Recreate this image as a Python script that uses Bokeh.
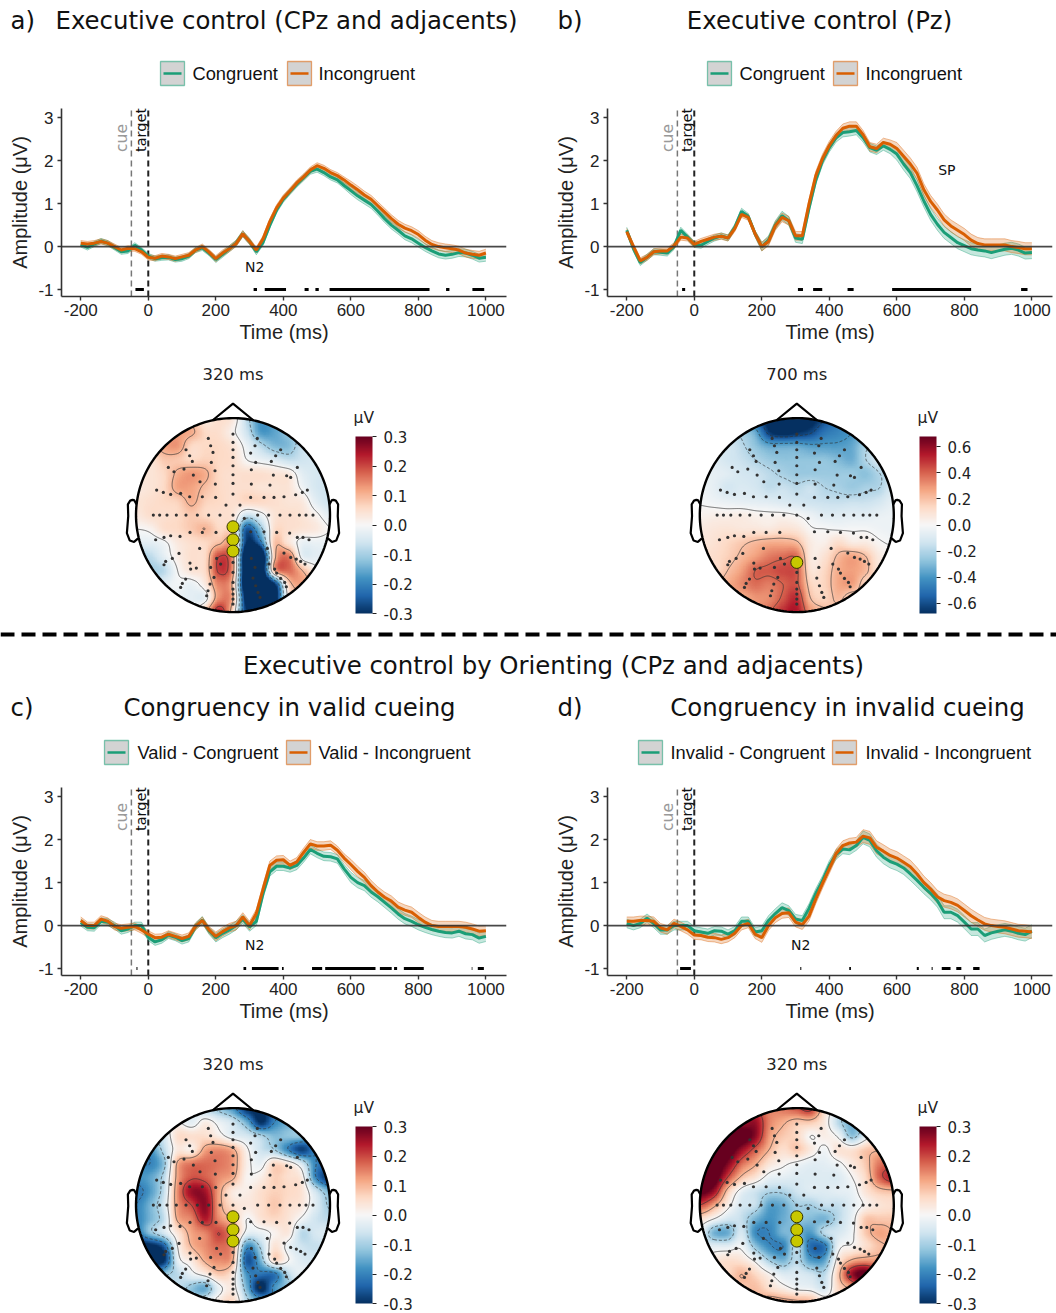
import numpy as np
from bokeh.plotting import figure
from bokeh.layouts import column, row
from bokeh.models import (Range1d, FixedTicker, ColorBar, LinearColorMapper, PrintfTickFormatter)
from bokeh.core.properties import value
from bokeh.palettes import RdBu
from bokeh.embed import file_html
from bokeh.resources import INLINE

# ---------------------------------------------------------------- ERP data
times = list(range(-200, 1001, 20))
a_con = [.05,-.02,.06,.13,.08,-.02,-.12,-.1,.03,-.08,-.22,-.28,-.26,-.25,-.3,-.28,-.22,-.08,-.03,-.15,-.3,-.18,-.05,.08,.3,.12,-.12,.1,.5,.85,1.1,1.28,1.45,1.6,1.75,1.8,1.72,1.62,1.55,1.42,1.3,1.18,1.08,.98,.82,.65,.5,.38,.25,.18,.08,-.02,-.1,-.17,-.2,-.18,-.14,-.15,-.2,-.27,-.25]
a_inc = [.08,.06,.08,.12,.08,0,-.08,-.04,-.05,-.12,-.25,-.27,-.22,-.24,-.28,-.24,-.2,-.08,0,-.13,-.28,-.15,-.05,.07,.3,.12,-.08,.18,.58,.9,1.13,1.3,1.48,1.62,1.78,1.88,1.82,1.72,1.65,1.55,1.43,1.32,1.2,1.1,.95,.8,.65,.52,.43,.37,.28,.15,.05,0,-.03,-.05,-.08,-.15,-.18,-.2,-.15]
b_con = [.38,-.05,-.37,-.25,-.12,-.13,-.15,0,.38,.22,.05,.03,.12,.2,.25,.2,.45,.82,.7,.3,0,.15,.5,.72,.6,.2,.17,.9,1.55,2.0,2.3,2.53,2.65,2.67,2.7,2.53,2.3,2.24,2.34,2.26,2.15,1.92,1.72,1.41,1.06,.75,.52,.33,.21,.09,.02,-.05,-.08,-.1,-.14,-.1,-.06,-.04,-.08,-.15,-.14]
b_inc = [.35,0,-.33,-.25,-.12,-.1,-.1,.02,.22,.2,.05,.12,.17,.22,.24,.2,.42,.75,.68,.3,0,.12,.48,.68,.6,.25,.25,1.0,1.65,2.05,2.35,2.58,2.75,2.8,2.8,2.6,2.32,2.28,2.42,2.38,2.28,2.1,1.92,1.7,1.32,1.05,.85,.62,.48,.38,.28,.15,.07,.04,.04,.04,.04,0,-.02,-.05,-.05]
c_con = [.07,-.04,-.05,.1,.08,0,-.12,-.08,0,0,-.27,-.38,-.33,-.22,-.27,-.35,-.3,-.02,.13,-.12,-.28,-.18,-.1,0,.15,-.03,.1,.75,1.25,1.38,1.38,1.34,1.4,1.57,1.77,1.68,1.61,1.6,1.55,1.32,1.12,1.0,.93,.78,.67,.54,.41,.27,.16,.1,.02,-.04,-.09,-.13,-.16,-.17,-.13,-.19,-.21,-.29,-.25]
c_inc = [.12,0,0,.15,.1,-.02,-.06,-.04,-.02,-.1,-.2,-.28,-.27,-.2,-.25,-.3,-.25,-.02,.12,-.1,-.25,-.14,-.05,0,.2,0,.28,.85,1.4,1.52,1.53,1.4,1.48,1.7,1.9,1.85,1.85,1.87,1.75,1.57,1.42,1.26,1.12,.93,.78,.66,.57,.43,.36,.31,.19,.08,0,-.02,-.02,-.02,-.02,-.04,-.08,-.13,-.12]
d_con = [.05,0,.05,.17,.05,-.1,-.1,0,0,0,-.12,-.15,-.18,-.12,-.13,-.2,-.12,.1,.1,-.15,-.12,.12,.28,.42,.35,.15,.12,.4,.75,1.05,1.4,1.65,1.78,1.76,1.86,2.05,1.98,1.74,1.59,1.49,1.43,1.34,1.2,1.05,.89,.75,.58,.31,.31,.23,.08,-.08,-.08,-.23,-.17,-.13,-.1,-.13,-.18,-.21,-.13]
d_inc = [.1,.1,.12,.12,.1,-.05,-.1,.05,-.02,-.1,-.22,-.23,-.27,-.28,-.32,-.28,-.18,0,.05,-.2,-.28,0,.18,.28,.3,.08,.02,.22,.62,.98,1.32,1.67,1.86,1.92,1.94,2.08,2.04,1.82,1.73,1.63,1.57,1.47,1.37,1.2,1.0,.85,.67,.58,.54,.47,.35,.23,.13,.04,0,-.02,-.04,-.08,-.12,-.13,-.15]

se_a = [.06]*20 + [.07]*20 + [.09]*21
se_b = [.07]*20 + [.10]*20 + [.14]*21
se_c = [.08]*20 + [.10]*20 + [.12]*21
se_d = [.10]*20 + [.11]*15 + [.15]*26

sig_a = [(-38,-13),(312,322),(345,408),(463,475),(495,505),(537,833),(882,892),(960,995)]
sig_b = [(-36,-27),(307,322),(352,379),(454,472),(586,820),(968,987)]
sig_c = [(-35,-32),(282,290),(307,386),(396,401),(485,515),(524,673),(686,721),(728,737),(757,816),(958,960),(976,994)]
sig_d = [(-42,-10),(314,317),(459,464),(659,665),(703,706),(733,759),(776,791),(826,845)]

x_ticks = [-200, 0, 200, 400, 600, 800, 1000]
y_ticks = [-1, 0, 1, 2, 3]

# ---------------------------------------------------------------- scalp maps: rows top to bottom as (first column, values x100 uV)
map_a = [
 (5,[3,5,3,-8,-18]),
 (3,[12,11,6,5,1,-6,-17,-16,-12]),
 (2,[12,13,6,6,6,4,-2,-8,-13,-13,-7]),
 (1,[4,8,8,6,7,6,5,0,-2,-4,-7,-6,-5]),
 (1,[4,6,11,13,11,6,5,5,5,4,3,-3,-5]),
 (0,[3,4,6,12,12,9,6,5,5,4,4,4,-1,-5,-6]),
 (0,[4,5,6,7,11,7,6,5,6,6,5,4,3,-3,-6]),
 (0,[3,5,5,6,8,6,5,4,-6,-2,4,5,4,1,-3]),
 (0,[0,1,5,6,8,10,6,4,-25,-12,5,5,4,3,0]),
 (0,[-3,-3,-1,3,5,6,9,10,-30,-22,8,4,-2,-2,-2]),
 (0,[-10,-8,-3,2,5,6,20,12,-42,-42,8,16,-2,-3,-2]),
 (1,[-10,-8,0,4,6,21,12,-42,-42,10,17,10,2]),
 (2,[-3,-1,-2,3,15,8,-42,-42,-30,6,12]),
 (4,[-3,-2,14,10,-35,-42,-35,0]),
 (6,[24,5,-30,-35]),
]
map_b = [
 (5,[-72,-72,-72,-72,-60]),
 (4,[-35,-65,-72,-68,-62,-50,-45,-40]),
 (2,[-12,-18,-27,-35,-35,-35,-38,-38,-38,-35,-22]),
 (1,[-8,-12,-15,-20,-25,-27,-27,-27,-27,-30,-33,-20,-12]),
 (1,[-6,-8,-12,-14,-18,-22,-25,-25,-25,-25,-25,-28,-20]),
 (0,[-3,-6,-12,-10,-12,-17,-15,-18,-15,-20,-22,-25,-22,-20,-10]),
 (0,[-1,-3,-5,-6,-7,-8,-10,-12,-14,-15,-16,-15,-15,-12,-6]),
 (0,[3,4,4,5,3,2,2,0,-4,-8,-8,-7,-7,-5,-4]),
 (0,[6,8,9,8,8,7,10,8,1,0,-1,-1,-1,-3,-4]),
 (0,[8,10,14,18,22,25,25,22,6,4,12,6,6,1,-1]),
 (1,[12,16,22,28,35,38,38,7,10,22,27,20,6]),
 (1,[12,20,28,40,42,45,42,10,14,25,28,22,8]),
 (2,[25,32,38,35,40,42,15,15,26,28,14]),
 (3,[25,30,32,42,50,20,15,22,14]),
 (6,[50,55,30]),
]
map_c = [
 (5,[-8,-12,-18,-30,-30]),
 (4,[-3,2,-2,-6,-15,-30,-20,-15]),
 (2,[-5,5,5,5,2,-3,-5,-9,-13,-12,-12]),
 (1,[-18,-8,3,2,12,14,11,1,-6,-10,-20,-28,-20]),
 (1,[-20,-12,11,16,17,16,13,2,-2,6,3,-5,-20]),
 (0,[-18,-16,-8,12,19,18,14,11,1,2,7,5,2,-20,-30]),
 (0,[-22,-17,-7,14,26,25,12,3,2,5,7,6,4,-6,-14]),
 (0,[-20,-14,-5,13,20,27,12,5,3,5,8,5,3,-4,-11]),
 (0,[-20,-14,-7,11,15,24,14,9,0,4,6,4,-1,-6,-8]),
 (0,[-22,-12,-5,4,12,15,20,13,-2,-2,1,3,-8,-5,-4]),
 (0,[-32,-32,-25,0,10,14,17,12,-18,-9,4,-2,-6,-7]),
 (1,[-32,-30,-3,3,11,14,10,-25,-14,5,0,-4,-5]),
 (2,[-12,-8,-2,2,8,3,-18,-22,-22,-8,-2]),
 (3,[-7,-12,-15,-2,2,-14,-32,-18]),
 (5,[-4,3,6,-8,-15]),
]
map_d = [
 (5,[15,16,19,22,5]),
 (3,[26,26,15,11,8,8,3,-8,-14]),
 (2,[36,34,27,13,8,6,0,2,-1,-12,-3]),
 (1,[36,34,26,18,10,5,8,3,-1,4,4,8,10]),
 (1,[36,28,17,11,4,1,-1,-3,-3,-1,3,8,16]),
 (0,[36,34,20,9,4,-2,-3,-4,-4,-4,-4,0,6,18,24]),
 (0,[32,26,8,-2,-6,-9,-9,-6,-4,-4,-3,-2,4,8,9]),
 (0,[20,12,2,-5,-7,-16,-15,-10,-10,-7,-7,-3,1,4,5]),
 (0,[5,0,-5,-7,-14,-18,-15,-12,-13,-14,-8,-2,8,8,8]),
 (0,[-2,-14,-15,-5,-19,-20,-14,-14,-17,-8,-5,-1,8,12,10]),
 (1,[-3,-3,-1,-12,-19,-20,-8,-23,-22,-2,1,5,9]),
 (1,[3,5,4,-1,-10,-14,-8,-17,-16,3,11,13,12]),
 (2,[6,10,6,1,-4,-4,-6,-8,8,26,32]),
 (3,[8,9,5,2,-1,-2,-5,6,12]),
 (5,[13,12,11,10,3]),
]
# electrode positions, head radius = 291 units, centre = (337, 358)
electrodes = [(263,128),(337,115),(410,128),(270,150),(337,140),(403,150),(196,162),(337,162),(480,162),(207,180),(277,170),(390,172),(465,180),(215,197),(272,200),(337,185),(405,200),(452,197),(143,215),(190,220),(283,225),(337,210),(392,222),(530,215),(160,228),(218,238),(337,237),(458,238),(498,240),(238,258),(510,245),(108,283),(128,290),(150,296),(180,293),(207,303),(284,265),(337,263),(392,265),(448,268),(560,283),(545,290),(525,297),(490,303),(460,305),(430,305),(390,305),(337,295),(285,305),(245,303),(316,328),(358,328),
(98,358),(117,358),(139,358),(167,358),(196,358),(230,358),(264,358),(298,358),(337,358),(371,368),(411,358),(444,358),(478,358),(508,358),(536,358),(556,358),(577,358),
(105,432),(130,425),(150,420),(178,422),(208,410),(245,410),(286,410),(390,408),(430,408),(468,410),(507,412),(530,425),(547,425),(565,432),
(237,458),(175,473),(155,488),(135,497),(130,507),(440,458),(490,472),(510,485),(527,490),(540,497),(553,505),(392,488),(288,488),
(208,502),(227,517),(270,515),(300,505),(280,545),(210,520),(195,550),(185,563),(180,575),(268,565),(262,585),(258,600),(337,500),(337,530),(337,560),(337,580),(337,595),(337,610),(337,625),(403,515),(397,547),(405,570),(412,590),(418,605),(445,505),(462,520),(468,532),(480,548),(492,560),(497,573)]
cpz_sites = [(337,393),(337,432),(337,466)]
pz_site = [(337,500)]

GREEN, ORANGE = "#1B9E77", "#D95F02"
SANS, HELV = "DejaVu Sans", "Liberation Sans"
palette = []
_base = np.array([[int(c[i:i+2],16) for i in (1,3,5)] for c in RdBu[11]], dtype=float)
if _base[0,2] < _base[0,0]:
    _base = _base[::-1]
for u in np.linspace(0,10,256):
    palette.append("#%02x%02x%02x" % tuple(int(round(np.interp(u,np.arange(11),_base[:,k]))) for k in range(3)))

def expand(rows):
    g = np.full((15,15), np.nan)
    for j,(s,v) in enumerate(rows):
        g[j,s:s+len(v)] = v
    while np.isnan(g).any():
        h = g.copy()
        for j,i in zip(*np.where(np.isnan(g))):
            nb = g[max(j-1,0):j+2, max(i-1,0):i+2]
            if np.isfinite(nb).any():
                h[j,i] = np.nanmean(nb)
        g = h
    return g/100.0

def cubic_weights(n_in, n_out):
    u = np.linspace(0, n_in-1, n_out)
    W = np.zeros((n_out,n_in))
    for k,t in enumerate(u):
        i = min(int(t), n_in-2); f = t-i
        w = [(-f**3+2*f**2-f)/2, (3*f**3-5*f**2+2)/2, (-3*f**3+4*f**2+f)/2, (f**3-f**2)/2]
        for d,wi in zip((-1,0,1,2),w):
            W[k, min(max(i+d,0),n_in-1)] += wi
    return W

def header(y0, y1):
    p = figure(width=1056, height=y1-y0, x_range=Range1d(0,1056), y_range=Range1d(y1,y0),
               output_backend="svg", toolbar_location=None, min_border=0,
               x_axis_location=None, y_axis_location=None, outline_line_color=None)
    p.grid.visible = False
    return p

def legend_key(p, x, y, col):
    p.quad(left=[x],right=[x+24],top=[y-12],bottom=[y+12],fill_color="#d3d3d3",line_color=col,line_alpha=.55,line_width=1.3)
    p.segment([x+3],[y],[x+21],[y],line_color=col,line_width=2.6)

def ttl(p, x, y, s, size, anchor="left", font=SANS, color="#111111"):
    p.text([x],[y],text=[s],text_font=value(font),text_font_size=size,text_align=anchor,
           text_baseline="middle",text_color=color)

TS = "24.4px"
LS = "18.3px"
h1 = header(0,100)
ttl(h1,10,20,"a)",TS); ttl(h1,286,20,"Executive control (CPz and adjacents)",TS,"center")
ttl(h1,557,20,"b)",TS); ttl(h1,819,20,"Executive control (Pz)",TS,"center")
for x,col,tx,s in [(160,GREEN,192,"Congruent"),(287,ORANGE,318,"Incongruent"),(707,GREEN,739,"Congruent"),(833,ORANGE,865,"Incongruent")]:
    legend_key(h1,x,73,col); ttl(h1,tx,73,s,LS,font=HELV)

h2 = header(623,779)
h2.segment([0],[634],[1056],[634],line_color="black",line_width=4,line_dash="14 7")
ttl(h2,553,665,"Executive control by Orienting (CPz and adjacents)",TS,"center")
ttl(h2,10,707,"c)",TS); ttl(h2,289,707,"Congruency in valid cueing",TS,"center")
ttl(h2,557,707,"d)",TS); ttl(h2,847,707,"Congruency in invalid cueing",TS,"center")
for x,col,tx,s in [(104,GREEN,137,"Valid - Congruent"),(286,ORANGE,318,"Valid - Incongruent"),(638,GREEN,670,"Invalid - Congruent"),(832,ORANGE,865,"Invalid - Incongruent")]:
    legend_key(h2,x,752,col); ttl(h2,tx,752,s,LS,font=HELV)

XL, XR = -257, 1061

def erp(con, inc, se, sig, left, right, height, labels):
    p = figure(width=445+left+right, height=height, x_range=Range1d(XL,XR), y_range=Range1d(-1.16,3.21),
               output_backend="svg", toolbar_location=None, min_border_left=left, min_border_right=right,
               min_border_top=8, min_border_bottom=height-8-188, outline_line_color=None,
               x_axis_label="Time (ms)", y_axis_label="Amplitude (\u03bcV)")
    p.grid.visible = False
    for ax,tk in ((p.xaxis,x_ticks),(p.yaxis,y_ticks)):
        ax.ticker = FixedTicker(ticks=tk)
        ax.formatter = PrintfTickFormatter(format="%d")
        ax.axis_line_color="#333333"; ax.axis_line_width=1.6
        ax.major_tick_line_color="#333333"; ax.major_tick_line_width=1.4
        ax.major_tick_out=4; ax.major_tick_in=0; ax.minor_tick_line_color=None
        ax.major_label_text_font=HELV; ax.major_label_text_font_size="17px"; ax.major_label_text_color="#222222"
        ax.axis_label_text_font=HELV; ax.axis_label_text_font_size="20px"; ax.axis_label_text_font_style="normal"
        ax.axis_label_text_color="#222222"
    p.xaxis.major_label_standoff=3; p.xaxis.axis_label_standoff=2
    p.yaxis.major_label_standoff=4; p.yaxis.axis_label_standoff=4
    t = np.array(times,float)
    p.segment([-50],[-1.16],[-50],[3.21],line_color="#777777",line_width=1.5,line_dash="6 4")
    p.segment([0],[-1.16],[0],[3.21],line_color="#222222",line_width=2,line_dash="6 4")
    for ser,col in ((con,GREEN),(inc,ORANGE)):
        m = np.array(ser); s = np.array(se)
        p.varea(t,m-s,m+s,fill_color=col,fill_alpha=.25)
        p.line(t,m-s,line_color=col,line_alpha=.5,line_width=.8)
        p.line(t,m+s,line_color=col,line_alpha=.5,line_width=.8)
    for ser,col in ((con,GREEN),(inc,ORANGE)):
        p.line(t,ser,line_color=col,line_width=3)
    p.segment([XL],[0],[XR],[0],line_color="#333333",line_width=1.8,line_alpha=.9)
    p.segment([a for a,b in sig],[-1]*len(sig),[b for a,b in sig],[-1]*len(sig),line_color="black",line_width=3)
    p.text([-22],[2.2],text=["target"],angle=np.pi/2,text_font=value(SANS),text_font_size="14.5px",text_align="left",text_baseline="middle",text_color="#111111")
    p.text([-78],[2.2],text=["cue"],angle=np.pi/2,text_font=value(SANS),text_font_size="15.5px",text_align="left",text_baseline="middle",text_color="#999999")
    for lx,ly,s in labels:
        p.text([lx],[ly],text=[s],text_font=value(SANS),text_font_size="14px",text_align="center",text_baseline="middle",text_color="#111111")
    return p

# MNE-style head outline
ear_x = np.array([.497,.510,.518,.5299,.5419,.54,.547,.532,.510,.489])*2
ear_y = np.array([.0555,.0775,.0783,.0746,.0555,-.0055,-.0932,-.1313,-.1384,-.1199])*2

def topo(rows, vmax, ticks, levels, sites, title, width, cx, bar_x, height=268, top=159.6):
    S = 97.0
    p = figure(width=width, height=height, x_range=Range1d(-cx/S,(width-cx)/S), y_range=Range1d(-(height-top)/S,top/S),
               output_backend="svg", toolbar_location=None, min_border=0,
               x_axis_location=None, y_axis_location=None, outline_line_color=None)
    p.grid.visible=False
    G = expand(rows)
    n = 281
    W = cubic_weights(15,n)
    Z = W @ G @ W.T
    Z = Z[::-1,:]
    xs = np.linspace(-1,1,n)
    XX,YY = np.meshgrid(xs,xs)
    Z = np.where(XX**2+YY**2<=1.0,Z,np.nan)
    mapper = LinearColorMapper(palette=palette,low=-vmax,high=vmax,nan_color="#00000000")
    p.image(image=[Z],x=-1,y=-1,dw=2,dh=2,color_mapper=mapper)
    pos=[l for l in levels if l>=0]; neg=[l for l in levels if l<0]
    p.contour(xs,xs,Z,levels=pos,line_color="#333333",line_width=.8,line_alpha=.85)
    p.contour(xs,xs,Z,levels=neg,line_color="#333333",line_width=.8,line_alpha=.85,line_dash="3 2")
    th = np.linspace(0,2*np.pi,200)
    p.line(np.cos(th),np.sin(th),line_color="black",line_width=2.4)
    d = np.cos(np.arccos(np.deg2rad(12))); e = np.sin(np.arccos(np.deg2rad(12)))
    p.line([-d,0,d],[e,1.15,e],line_color="black",line_width=2.2)
    p.line(ear_x,ear_y,line_color="black",line_width=2.2)
    p.line(-ear_x,ear_y,line_color="black",line_width=2.2)
    ex=[(a-337)/291 for a,b in electrodes]; ey=[(358-b)/291 for a,b in electrodes]
    p.scatter(ex,ey,size=3.2,fill_color="#333333",line_color=None)
    p.scatter([(a-337)/291 for a,b in sites],[(358-b)/291 for a,b in sites],size=12,fill_color="#c8c800",line_color="#333300",line_width=1)
    p.text([0],[1.45],text=[title],text_font=value(SANS),text_font_size="16.4px",text_align="center",text_baseline="middle",text_color="#222222")
    bx=(bar_x-cx)/S
    p.text([bx-0.02],[1.0],text=["\u03bcV"],text_font=value(SANS),text_font_size="15.5px",text_align="left",text_baseline="middle",text_color="#222222")
    cb = ColorBar(color_mapper=mapper,ticker=FixedTicker(ticks=ticks),formatter=PrintfTickFormatter(format="%.1f"),
                  width=17,height=177,location=(bar_x,height-81-177),
                  major_tick_in=0,major_tick_out=4,major_tick_line_color="#222222",major_tick_line_width=1.2,
                  minor_tick_line_color=None,bar_line_color=None,padding=0,margin=0,
                  major_label_text_font=SANS,major_label_text_font_size="15px",major_label_text_color="#222222",
                  label_standoff=7,background_fill_color=None,border_line_color=None)
    p.add_layout(cb,"center")
    return p

lv3=[-.2,-.1,0,.1,.2]; lv6=[-.6,-.4,-.2,0,.2,.4]
tk3=[-.3,-.2,-.1,0,.1,.2,.3]; tk6=[-.6,-.4,-.2,0,.2,.4,.6]

e_a = erp(a_con,a_inc,se_a,sig_a,61,46,255,[(315,-.47,"N2")])
e_b = erp(b_con,b_inc,se_b,sig_b,55,4,255,[(748,1.77,"SP")])
e_c = erp(c_con,c_inc,se_c,sig_c,61,46,266,[(315,-.45,"N2")])
e_d = erp(d_con,d_inc,se_d,sig_d,55,4,266,[(315,-.45,"N2")])

t_a = topo(map_a,.3,tk3,lv3,cpz_sites,"320 ms",552,232.5,355)
t_b = topo(map_b,.68,tk6,lv6,pz_site,"700 ms",504,244.3,367)
t_c = topo(map_c,.3,tk3,lv3,cpz_sites,"320 ms",552,232.5,355)
t_d = topo(map_d,.3,tk3,lv3,cpz_sites,"320 ms",504,244.3,367)

page = column(h1,row(e_a,e_b,spacing=0),row(t_a,t_b,spacing=0),h2,row(e_c,e_d,spacing=0),row(t_c,t_d,spacing=0),spacing=0)
open("out.html","w").write(file_html(page,INLINE))
